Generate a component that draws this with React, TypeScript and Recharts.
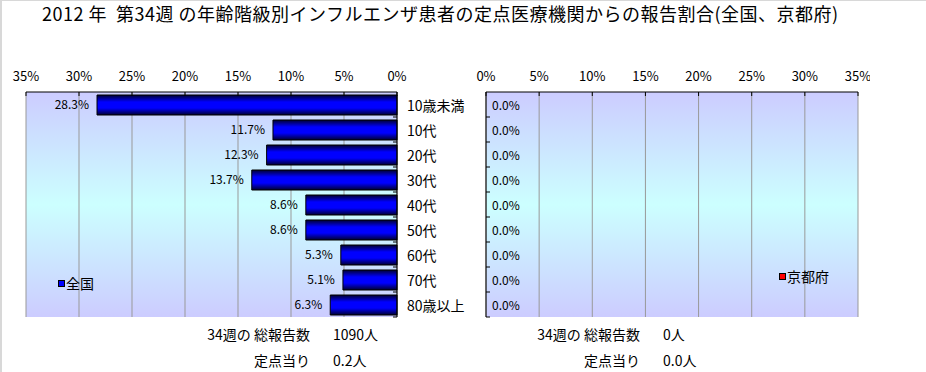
import React from 'react';
import { BarChart, Bar, XAxis, YAxis, CartesianGrid, LabelList, Legend } from 'recharts';

const title = '2012 年  第34週 の年齢階級別インフルエンザ患者の定点医療機関からの報告割合(全国、京都府)';
const categories = ['10歳未満', '10代', '20代', '30代', '40代', '50代', '60代', '70代', '80歳以上'];
const nationalValues = [28.3, 11.7, 12.3, 13.7, 8.6, 8.6, 5.3, 5.1, 6.3];
const kyotoValues = [0, 0, 0, 0, 0, 0, 0, 0, 0];
const xTicks = [0, 5, 10, 15, 20, 25, 30, 35];
const nationalName = '全国';
const kyotoName = '京都府';
const nationalSummary = { total: '1090人', perSite: '0.2人' };
const kyotoSummary = { total: '0人', perSite: '0.0人' };
const summaryLabels = { total: '34週の 総報告数', perSite: '定点当り' };

const nationalData = categories.map((c, i) => ({ name: c, value: nationalValues[i] }));
const kyotoData = categories.map((c, i) => ({ name: c, value: kyotoValues[i] }));

const FONT = '"Noto Sans CJK JP", "Noto Sans", sans-serif';
const fmt = (v: any) => `${Number(v).toFixed(1)}%`;

const TopTick = (props: any) => {
  const { x, y, payload } = props;
  return (
    <g>
      <text x={x} y={y} textAnchor="middle" fontSize={13} fill="#000">{payload.value}%</text>
      <line x1={x} x2={x} y1={y + 11} y2={y + 15} stroke="#000" />
    </g>
  );
};

const RightCatTick = (props: any) => {
  const { x, y, payload } = props;
  return (
    <g>
      <text x={x} y={y} dominantBaseline="central" textAnchor="start" fontSize={14} fill="#000">{payload.value}</text>
      <line x1={x - 10} x2={x - 14} y1={y + 12.5} y2={y + 12.5} stroke="#000" />
    </g>
  );
};

// Left axis of the Kyoto chart: inward tick marks plus the value label of each (zero-length) bar
const KyotoTick = (props: any) => {
  const { x, y, payload } = props;
  const row = kyotoData[payload.index];
  return (
    <g>
      <line x1={x} x2={x + 4} y1={y + 12.5} y2={y + 12.5} stroke="#000" />
      <text x={x + 6} y={y} dominantBaseline="central" textAnchor="start" fontSize={12} fill="#000">{row ? fmt(row.value) : ''}</text>
    </g>
  );
};

const legendContent = (name: string, color: string) => () => (
  <div style={{ display: 'flex', alignItems: 'center', fontSize: 14, fontFamily: FONT, whiteSpace: 'nowrap' }}>
    <span style={{ display: 'inline-block', width: 5, height: 5, background: color, border: '1px solid #000', marginRight: 1 }} />
    <span>{name}</span>
  </div>
);

const Gradients = ({ id }: { id: string }) => (
  <defs>
    <linearGradient id={`bg${id}`} x1="0" y1="0" x2="0" y2="1">
      <stop offset="0%" stopColor="#ccccff" />
      <stop offset="50%" stopColor="#ccffff" />
      <stop offset="100%" stopColor="#ccccff" />
    </linearGradient>
    <linearGradient id={`bar${id}`} x1="0" y1="0" x2="0" y2="1">
      <stop offset="0%" stopColor="#000030" />
      <stop offset="35%" stopColor="#0000ff" />
      <stop offset="65%" stopColor="#0000ff" />
      <stop offset="100%" stopColor="#000030" />
    </linearGradient>
  </defs>
);

const summaryRow = (left: number, top: number, label: string, value: string) => (
  <div style={{ position: 'absolute', left, top, fontSize: 14, fontFamily: FONT, whiteSpace: 'nowrap', lineHeight: '16px' }}>
    <span style={{ display: 'inline-block', width: 106, textAlign: 'right' }}>{label}</span>
    <span style={{ display: 'inline-block', marginLeft: 23 }}>{value}</span>
  </div>
);

export default function App() {
  return (
    <div style={{ position: 'absolute', left: 0, top: 0, width: 926, height: 372, background: '#fff', fontFamily: FONT, overflow: 'hidden' }}>
      <div style={{ position: 'absolute', left: 0, top: 0, width: 926, height: 1, background: '#d8d8d8' }} />
      <div style={{ position: 'absolute', left: 0, top: 0, width: 2, height: 372, background: '#d8d8d8' }} />
      <div style={{ position: 'absolute', left: 42, top: 2, fontSize: 18, whiteSpace: 'pre', lineHeight: '22px', letterSpacing: 0.5 }}>{title}</div>

      <div style={{ position: 'absolute', left: 0, top: 0 }}>
        <BarChart width={470} height={372} data={nationalData} layout="vertical" margin={{ top: 62, right: 0, bottom: 55, left: 26 }} barSize={20}>
          <Gradients id="L" />
          <CartesianGrid horizontal={false} stroke="#999" fill="url(#bgL)" fillOpacity={1} />
          <XAxis type="number" orientation="top" reversed domain={[0, 35]} ticks={xTicks} interval={0} height={30}
            tickLine={false} tickSize={0} tickMargin={11} tick={<TopTick />} axisLine={{ stroke: '#000' }} />
          <XAxis xAxisId="b" type="number" orientation="bottom" reversed domain={[0, 35]} height={0} tick={false} tickLine={false} axisLine={{ stroke: '#808080' }} />
          <YAxis type="category" dataKey="name" orientation="right" width={73} tickLine={false} tickSize={0} tickMargin={10}
            tick={<RightCatTick />} axisLine={{ stroke: '#000' }} interval={0} />
          <Bar dataKey="value" name={nationalName} fill="url(#barL)" stroke="#000" strokeWidth={1} isAnimationActive={false}>
            <LabelList dataKey="value" position="right" offset={8} fontSize={12} fill="#000" formatter={fmt} />
          </Bar>
          <Legend layout="vertical" align="center" verticalAlign="middle" wrapperStyle={{ left: 58, top: 273, width: 'auto' }} content={legendContent(nationalName, '#0000ff')} />
        </BarChart>
      </div>

      <div style={{ position: 'absolute', left: 470, top: 0 }}>
        <BarChart width={400} height={372} data={kyotoData} layout="vertical" margin={{ top: 62, right: 12, bottom: 55, left: 15 }} barSize={20}>
          <Gradients id="R" />
          <CartesianGrid horizontal={false} stroke="#999" fill="url(#bgR)" fillOpacity={1} />
          <XAxis type="number" orientation="top" domain={[0, 35]} ticks={xTicks} interval={0} height={30}
            tickLine={false} tickSize={0} tickMargin={11} tick={<TopTick />} axisLine={{ stroke: '#000' }} />
          <XAxis xAxisId="b" type="number" orientation="bottom" domain={[0, 35]} height={0} tick={false} tickLine={false} axisLine={{ stroke: '#808080' }} />
          <YAxis type="category" dataKey="name" orientation="left" width={1} tickLine={false} tickSize={0} tickMargin={0}
            tick={<KyotoTick />} axisLine={{ stroke: '#000' }} interval={0} />
          <Bar dataKey="value" name={kyotoName} fill="#ff0000" stroke="#000" isAnimationActive={false} />
          <Legend layout="vertical" align="center" verticalAlign="middle" wrapperStyle={{ left: 309, top: 266, width: 'auto' }} content={legendContent(kyotoName, '#ff0000')} />
        </BarChart>
      </div>

      {summaryRow(204, 326, summaryLabels.total, nationalSummary.total)}
      {summaryRow(204, 352, summaryLabels.perSite, nationalSummary.perSite)}
      {summaryRow(534, 326, summaryLabels.total, kyotoSummary.total)}
      {summaryRow(534, 352, summaryLabels.perSite, kyotoSummary.perSite)}
    </div>
  );
}
